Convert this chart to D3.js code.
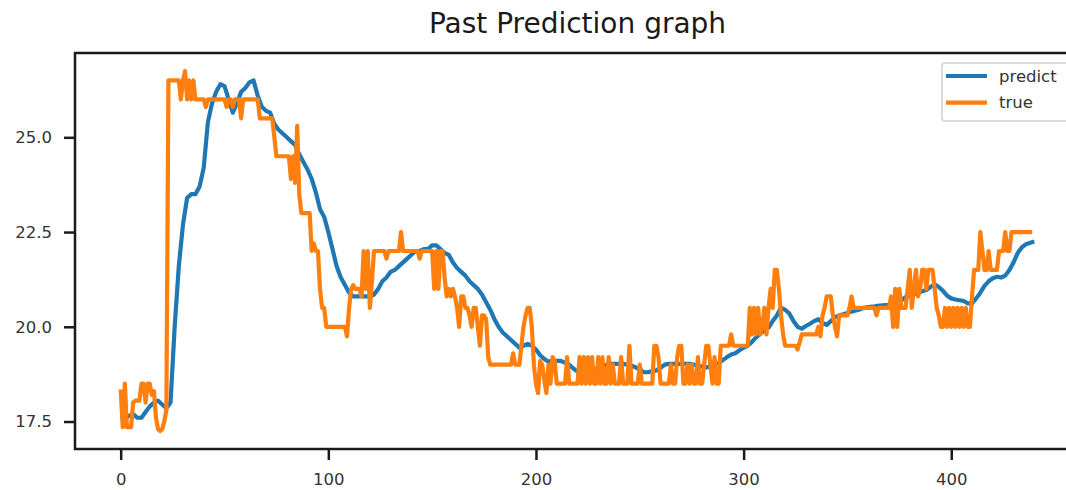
<!DOCTYPE html>
<html>
<head>
<meta charset="utf-8">
<script src="https://cdn.jsdelivr.net/npm/d3@7"></script>
<style>
  html, body { margin: 0; padding: 0; background: #fff; }
  svg { display: block; font-family: "DejaVu Sans", sans-serif; }
</style>
</head>
<body>
<div id="chart"></div>
<script>
// 제목 / 범례
const chartTitle = "Past Prediction graph";
const seriesNames = ["predict", "true"];

// predict : 2 스텝마다 읽은 값 (index 0, 2, 4, ... 440)
const predictStep = 2;
const predictValues = [
  17.55, 17.6, 17.65, 17.7, 17.6, 17.6, 17.75, 17.9, 18.0, 18.05,
  17.95, 17.85, 18.0, 20.0, 21.6, 22.7, 23.4, 23.5, 23.5, 23.7,
  24.2, 25.4, 25.9, 26.2, 26.4, 26.35, 26.0, 25.65, 25.9, 26.2,
  26.3, 26.45, 26.5, 26.1, 25.8, 25.7, 25.65, 25.35, 25.2, 25.1,
  25.0, 24.9, 24.8, 24.55, 24.35, 24.15, 23.9, 23.55, 23.1, 22.9,
  22.5, 22.05, 21.6, 21.3, 21.1, 20.9, 20.8, 20.8, 20.8, 20.8,
  20.8, 20.85, 21.0, 21.2, 21.3, 21.45, 21.5, 21.6, 21.7, 21.8,
  21.9, 22.0, 22.0, 22.05, 22.05, 22.15, 22.15, 22.05, 21.95, 21.9,
  21.7, 21.55, 21.45, 21.35, 21.2, 21.1, 21.0, 20.85, 20.65, 20.45,
  20.2, 20.0, 19.85, 19.75, 19.65, 19.55, 19.45, 19.5, 19.55, 19.5,
  19.4, 19.25, 19.15, 19.08, 19.1, 19.1, 19.1, 19.05, 19.0, 18.9,
  18.82, 18.8, 18.8, 18.8, 18.85, 18.92, 18.95, 19.0, 19.02, 19.02,
  19.02, 19.02, 19.0, 18.97, 18.93, 18.87, 18.8, 18.8, 18.83, 18.85,
  18.92, 19.0, 19.02, 19.02, 19.02, 19.02, 19.02, 19.02, 19.0, 18.97,
  18.95, 18.93, 18.95, 19.0, 19.05, 19.12, 19.2, 19.27, 19.3, 19.38,
  19.45, 19.5, 19.6, 19.72, 19.82, 19.9, 19.98, 20.15, 20.3, 20.5,
  20.45, 20.35, 20.15, 20.0, 19.95, 20.02, 20.08, 20.15, 20.2, 20.1,
  20.05, 20.15, 20.25, 20.3, 20.33, 20.36, 20.4, 20.43, 20.46, 20.5,
  20.52, 20.53, 20.55, 20.56, 20.57, 20.58, 20.6, 20.62, 20.7, 20.78,
  20.82, 20.86, 20.9, 20.94, 20.97, 21.05, 21.12, 21.05, 20.95, 20.82,
  20.75, 20.72, 20.7, 20.68, 20.62, 20.62, 20.75, 20.9, 21.08, 21.2,
  21.28, 21.32, 21.3, 21.35, 21.5, 21.7, 21.95, 22.1, 22.18, 22.22,
  22.25
];

// true : 1 스텝마다 읽은 값 (index 0 ~ 439)
const trueValues = [
  18.35, 17.35, 18.5, 17.35, 17.35, 17.35, 18.0, 18.05, 18.05, 18.05,
  18.5, 18.5, 18.0, 18.5, 18.5, 18.2, 18.3, 17.6, 17.3, 17.25,
  17.3, 17.5, 17.8, 26.5, 26.5, 26.5, 26.5, 26.5, 26.5, 26.0,
  26.5, 26.75, 26.0, 26.5, 26.0, 26.5, 26.0, 26.0, 26.0, 26.0,
  26.0, 25.8, 26.0, 26.0, 26.0, 26.0, 26.0, 26.0, 26.0, 26.0,
  26.0, 25.8, 26.0, 26.0, 25.8, 26.0, 26.0, 26.0, 25.5, 26.0,
  26.0, 26.0, 26.0, 26.0, 26.0, 26.0, 26.0, 25.5, 25.5, 25.5,
  25.5, 25.5, 25.5, 25.5, 25.0, 24.5, 24.5, 24.5, 24.5, 24.5,
  24.5, 24.5, 23.9, 24.5, 23.8, 25.3, 23.5, 23.0, 23.0, 23.0,
  23.0, 23.0, 22.0, 22.2, 22.0, 22.0, 21.0, 20.5, 20.5, 20.0,
  20.0, 20.0, 20.0, 20.0, 20.0, 20.0, 20.0, 20.0, 20.0, 19.75,
  20.5, 21.0, 21.1, 21.0, 21.0, 21.0, 20.8, 22.0, 21.0, 22.0,
  20.5, 21.2, 22.0, 22.0, 22.0, 22.0, 22.0, 22.0, 21.8, 22.0,
  22.0, 22.0, 22.0, 22.0, 22.0, 22.5, 22.0, 22.0, 22.0, 22.0,
  22.0, 22.0, 22.0, 22.0, 21.8, 22.0, 22.0, 22.0, 22.0, 22.0,
  22.0, 21.0, 22.0, 21.0, 22.0, 22.0, 21.3, 20.8, 21.0, 20.8,
  21.0, 20.8, 20.5, 20.0, 20.8, 20.8, 20.5, 20.5, 20.3, 20.0,
  20.5, 20.5, 20.0, 19.5, 20.3, 20.3, 20.2, 19.2, 19.0, 19.0,
  19.0, 19.0, 19.0, 19.0, 19.0, 19.0, 19.0, 19.0, 19.0, 19.3,
  19.0, 19.0, 19.0, 19.5, 20.0, 20.3, 20.5, 20.5, 20.0, 19.0,
  18.5, 18.25, 19.1, 19.0, 18.6, 18.25, 19.0, 18.5, 19.2, 19.1,
  18.5, 18.5, 18.5, 18.5, 18.5, 19.2, 18.5, 18.5, 18.5, 18.5,
  18.5, 19.2, 18.5, 19.2, 18.5, 19.2, 18.5, 19.2, 18.5, 18.5,
  19.2, 18.5, 19.2, 18.5, 18.5, 19.2, 18.5, 19.0, 18.5, 18.5,
  18.5, 19.2, 18.5, 18.5, 18.5, 19.5, 18.5, 18.5, 18.5, 18.5,
  19.0, 18.5, 18.5, 18.5, 18.5, 18.5, 18.5, 19.5, 19.5, 19.2,
  18.5, 18.5, 18.5, 18.5, 18.5, 19.0, 18.5, 18.5, 19.2, 19.5,
  19.5, 18.5, 18.5, 19.0, 18.5, 19.0, 18.5, 18.5, 19.2, 18.5,
  18.5, 19.0, 19.5, 19.5, 19.0, 18.5, 19.2, 18.5, 18.5, 19.5,
  19.5, 19.5, 19.5, 19.5, 19.8, 19.5, 19.5, 19.5, 19.5, 19.5,
  19.5, 19.5, 19.5, 20.5, 19.8, 20.5, 19.8, 20.5, 19.8, 20.0,
  20.5, 19.8, 20.5, 21.0, 20.5, 21.5, 21.5, 21.0, 20.3, 19.8,
  19.5, 19.5, 19.5, 19.5, 19.5, 19.5, 19.4, 19.6, 19.8, 19.8,
  19.8, 19.8, 19.8, 19.8, 19.8, 19.8, 20.0, 19.75, 20.3, 20.5,
  20.8, 20.8, 20.8, 20.3, 20.0, 19.75, 20.3, 20.3, 20.3, 20.3,
  20.3, 20.5, 20.8, 20.5, 20.5, 20.5, 20.5, 20.5, 20.5, 20.5,
  20.5, 20.5, 20.5, 20.5, 20.3, 20.5, 20.5, 20.5, 20.5, 20.5,
  20.5, 20.8, 20.0, 21.0, 20.0, 21.0, 20.5, 20.5, 20.5, 21.0,
  21.5, 20.5, 21.0, 21.5, 20.8, 21.0, 21.5, 21.5, 21.0, 21.5,
  21.5, 21.5, 21.0, 20.5, 20.3, 20.0, 20.0, 20.5, 20.0, 20.5,
  20.0, 20.5, 20.0, 20.5, 20.0, 20.5, 20.0, 20.5, 20.0, 20.0,
  20.8, 21.5, 21.5, 21.5, 22.5, 22.0, 21.5, 21.5, 22.0, 21.5,
  21.5, 21.5, 21.5, 22.0, 22.0, 22.0, 22.5, 22.0, 22.0, 22.5,
  22.5, 22.5, 22.5, 22.5, 22.5, 22.5, 22.5, 22.5, 22.5, 22.5
];

// 눈금
const xTicks = [0, 100, 200, 300, 400];
const yTicks = [17.5, 20.0, 22.5, 25.0];

const colors = { predict: "#1f77b4", true: "#ff7f0e" };

const width = 1066, height = 490;
// 축 영역 (오른쪽은 그림 밖으로 잘려 있음)
const plot = { left: 75, right: 1080, top: 53, bottom: 449 };
const lineWidth = 4.2;

const predictData = predictValues.map((v, i) => ({ x: i * predictStep, y: v }));
const trueData = trueValues.map((v, i) => ({ x: i, y: v }));
const allData = predictData.concat(trueData);

// matplotlib 처럼 5% 여백
const xExt = d3.extent(allData, d => d.x);
const yExt = d3.extent(allData, d => d.y);
const xPad = (xExt[1] - xExt[0]) * 0.05;
const yPad = (yExt[1] - yExt[0]) * 0.05;

const x = d3.scaleLinear()
  .domain([xExt[0] - xPad, xExt[1] + xPad])
  .range([plot.left, plot.right]);
const y = d3.scaleLinear()
  .domain([yExt[0] - yPad, yExt[1] + yPad])
  .range([plot.bottom, plot.top]);

const svg = d3.select("#chart").append("svg")
  .attr("width", width)
  .attr("height", height);

// 제목
svg.append("text")
  .attr("x", (plot.left + plot.right) / 2)
  .attr("y", 33)
  .attr("text-anchor", "middle")
  .attr("font-size", "28px")
  .attr("fill", "#1a1a1a")
  .text(chartTitle);

// 선 그리기
const line = d3.line()
  .x(d => x(d.x))
  .y(d => y(d.y));

svg.append("path")
  .datum(predictData)
  .attr("fill", "none")
  .attr("stroke", colors.predict)
  .attr("stroke-width", lineWidth)
  .attr("stroke-linejoin", "round")
  .attr("d", line);

svg.append("path")
  .datum(trueData)
  .attr("fill", "none")
  .attr("stroke", colors.true)
  .attr("stroke-width", lineWidth)
  .attr("stroke-linejoin", "round")
  .attr("d", line);

// 축 테두리
svg.append("rect")
  .attr("x", plot.left)
  .attr("y", plot.top)
  .attr("width", plot.right - plot.left)
  .attr("height", plot.bottom - plot.top)
  .attr("fill", "none")
  .attr("stroke", "#1a1a1a")
  .attr("stroke-width", 2.5);

// x 축
const xAxis = svg.append("g")
  .attr("transform", `translate(0,${plot.bottom})`)
  .call(d3.axisBottom(x).tickValues(xTicks).tickSize(11).tickPadding(13).tickFormat(d3.format("d")));

// y 축
const yAxis = svg.append("g")
  .attr("transform", `translate(${plot.left},0)`)
  .call(d3.axisLeft(y).tickValues(yTicks).tickSize(11).tickPadding(12).tickFormat(d3.format(".1f")));

[xAxis, yAxis].forEach(ax => {
  ax.select(".domain").remove();
  ax.selectAll(".tick line").attr("stroke", "#1a1a1a").attr("stroke-width", 2.5);
  ax.selectAll(".tick text")
    .attr("fill", "#333")
    .attr("font-size", "16.5px")
    .attr("font-family", "DejaVu Sans, sans-serif");
});

// 범례
const legend = svg.append("g").attr("class", "legend");
legend.append("rect")
  .attr("x", 942)
  .attr("y", 63)
  .attr("width", 130)
  .attr("height", 58)
  .attr("rx", 3)
  .attr("fill", "#fff")
  .attr("fill-opacity", 0.8)
  .attr("stroke", "#d0d0d0")
  .attr("stroke-width", 1.5);

seriesNames.forEach((name, i) => {
  const ly = 76 + i * 26.7;
  legend.append("line")
    .attr("x1", 946)
    .attr("x2", 987)
    .attr("y1", ly)
    .attr("y2", ly)
    .attr("stroke", colors[name])
    .attr("stroke-width", lineWidth);
  legend.append("text")
    .attr("x", 999)
    .attr("y", ly)
    .attr("dy", "0.35em")
    .attr("font-size", "16.5px")
    .attr("fill", "#333")
    .text(name);
});
</script>
</body>
</html>
